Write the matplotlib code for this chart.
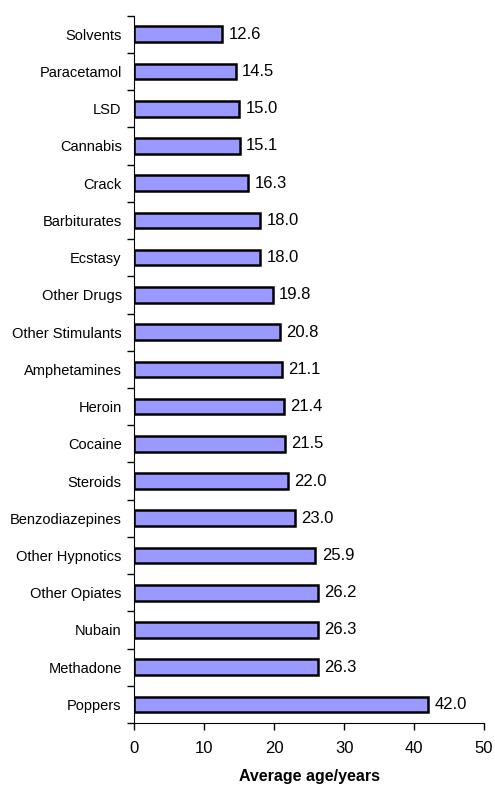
import numpy as np
import matplotlib.pyplot as plt

plt.rcParams['font.family'] = ['Liberation Sans', 'DejaVu Sans']

drogas = ["Solvents", "Paracetamol", "LSD", "Cannabis", "Crack", "Barbiturates",
          "Ecstasy", "Other Drugs", "Other Stimulants", "Amphetamines", "Heroin",
          "Cocaine", "Steroids", "Benzodiazepines", "Other Hypnotics",
          "Other Opiates", "Nubain", "Methadone", "Poppers"]
edades = [12.6, 14.5, 15.0, 15.1, 16.3, 18.0, 18.0, 19.8, 20.8, 21.1, 21.4,
          21.5, 22.0, 23.0, 25.9, 26.2, 26.3, 26.3, 42.0]

fig = plt.figure(figsize=(4.95, 7.85), dpi=100)
ax = fig.add_axes([0.271, 0.079, 0.707, 0.901])

pos = np.arange(len(drogas))
ax.barh(pos, edades, height=0.42, color="#9999FF", edgecolor="black", linewidth=1.8)
# etiquetas con el valor al final de cada barra
for p, v in zip(pos, edades):
    ax.text(v + 0.9, p, "{:.1f}".format(v), va="center", ha="left", fontsize=12)

ax.set_ylim(len(drogas) - 0.5, -0.5)
ax.set_xlim(0, 50)
ax.set_xticks([0, 10, 20, 30, 40, 50])
ax.set_yticks(pos)
ax.set_yticklabels(drogas, fontsize=10.5)
ax.set_yticks(np.arange(-0.5, len(drogas)), minor=True)
ax.tick_params(axis="y", which="major", length=0, pad=9)
ax.tick_params(axis="y", which="minor", length=5, width=1, direction="out")
ax.tick_params(axis="x", length=5, width=1, direction="out", labelsize=12, pad=8)
ax.spines["top"].set_visible(False)
ax.spines["right"].set_visible(False)
ax.set_xlabel("Average age/years", fontsize=11.5, fontweight="bold", labelpad=9)

plt.savefig("out.png", dpi=100)
